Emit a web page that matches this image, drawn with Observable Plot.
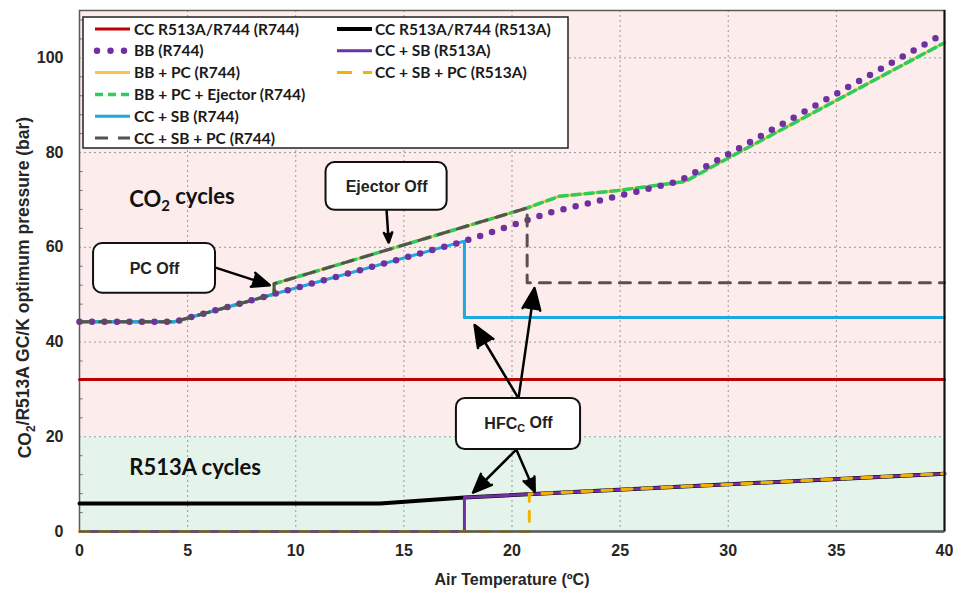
<!DOCTYPE html>
<html><head><meta charset="utf-8">
<script src="https://cdn.jsdelivr.net/npm/d3@7"></script>
<script src="https://cdn.jsdelivr.net/npm/@observablehq/plot@0.6"></script>
<style>body{margin:0;background:#fff}</style>
</head><body><div id="chart"></div>
<script>
// ---- tick labels ----
const xTicks = [0, 5, 10, 15, 20, 25, 30, 35, 40];
const yTicks = [0, 20, 40, 60, 80, 100];
const xGrid = [5, 10, 15, 20, 25, 30, 35];
const yGrid = [20, 40, 60, 80, 100];
const yMinor = [4, 8, 12, 16, 24, 28, 32, 36, 44, 48, 52, 56, 64, 68, 72, 76, 84, 88, 92, 96, 104, 108];

// ---- series names ----
const names = ["CC R513A/R744 (R744)", "BB (R744)", "BB + PC (R744)", "BB + PC + Ejector (R744)",
  "CC + SB (R744)", "CC + SB + PC (R744)", "CC R513A/R744 (R513A)", "CC + SB (R513A)", "CC + SB + PC (R513A)"];

// ---- series values (air temperature °C, pressure bar) ----
const ccR744T = [0, 40];
const ccR744P = [32.1, 32.1];
const bbT = [0, 4.4, 17.8, 21.8, 27.7, 29.9, 40];
const bbP = [44.3, 44.3, 61.3, 67.4, 73.9, 79.4, 105.2];
const bbPcT = [0, 4.4, 9, 9, 20.7, 22.2, 24.9, 28, 29.9, 40];
const bbPcP = [44.3, 44.3, 50.1, 52.3, 68.3, 70.8, 72.0, 73.9, 78.6, 103.2];
const bbPcEjT = [0, 4.4, 9, 9, 20.7, 22.2, 24.9, 28, 29.9, 40];
const bbPcEjP = [44.3, 44.3, 50.1, 52.3, 68.3, 70.8, 72.0, 73.9, 78.6, 103.2];
const ccSbR744T = [0, 4.4, 17.8, 17.8, 40];
const ccSbR744P = [44.3, 44.3, 61.3, 45.2, 45.2];
const ccSbPcR744T = [0, 4.4, 9, 9, 20.7, 20.7, 40];
const ccSbPcR744P = [44.3, 44.3, 50.1, 52.3, 68.3, 52.5, 52.5];
const ccR513T = [0, 13.9, 17.8, 40];
const ccR513P = [5.9, 5.9, 7.2, 12.2];
const ccSbR513T = [0, 17.8, 17.8, 40];
const ccSbR513P = [0, 0, 7.2, 12.2];
const ccSbPcR513T = [0, 20.8, 20.8, 40];
const ccSbPcR513P = [0, 0, 7.9, 12.2];

// ---- annotations (data units) ----
const regionLabels = [{text: "CO2 cycles", t: 2.3, p: 70.1}, {text: "R513A cycles", t: 2.3, p: 13.4}];
const boxes = [
  {text: "Ejector Off", x1: 11.4, x2: 17.0, y1: 67.8, y2: 77.9},
  {text: "PC Off", x1: 0.65, x2: 6.29, y1: 50.3, y2: 60.8},
  {text: "HFCC Off", x1: 17.43, x2: 23.17, y1: 17.3, y2: 28.1}
];
const arrows = [
  {x1: 14.2, y1: 67.8, x2: 14.3, y2: 61.0},
  {x1: 6.29, y1: 55.7, x2: 8.8, y2: 52.0},
  {x1: 20.3, y1: 28.1, x2: 18.27, y2: 43.6},
  {x1: 20.3, y1: 28.1, x2: 21.04, y2: 51.4},
  {x1: 20.2, y1: 17.3, x2: 18.2, y2: 8.2},
  {x1: 20.2, y1: 17.3, x2: 21.05, y2: 8.4}
];
const bands = [{y1: 20, y2: 110}, {y1: 0, y2: 20}];

const rows = (T, P) => T.map((t, i) => ({t, p: P[i]}));

// styles
const styles = {
  red:    {stroke: "#c00000", strokeWidth: 3},
  bb:     {stroke: "#7030a0", strokeWidth: 6.5, strokeDasharray: "0 12.5", strokeLinecap: "round"},
  bbpc:   {stroke: "#f7c548", strokeWidth: 3},
  ej:     {stroke: "#2ecc5a", strokeWidth: 3.5, strokeDasharray: "8 5"},
  blue:   {stroke: "#1fa8e0", strokeWidth: 3},
  gray:   {stroke: "#5a5050", strokeWidth: 3, strokeDasharray: "11 9"},
  black:  {stroke: "#000000", strokeWidth: 4},
  purple: {stroke: "#7030a0", strokeWidth: 3},
  gold:   {stroke: "#f0b400", strokeWidth: 3, strokeDasharray: "10 10"}
};

const series = [
  {name: names[0], data: rows(ccR744T, ccR744P), s: styles.red},
  {name: names[2], data: rows(bbPcT, bbPcP), s: styles.bbpc},
  {name: names[3], data: rows(bbPcEjT, bbPcEjP), s: styles.ej},
  {name: names[4], data: rows(ccSbR744T, ccSbR744P), s: styles.blue},
  {name: names[1], data: rows(bbT, bbP), s: styles.bb},
  {name: names[5], data: rows(ccSbPcR744T, ccSbPcR744P), s: styles.gray},
  {name: names[6], data: rows(ccR513T, ccR513P), s: styles.black},
  {name: names[7], data: rows(ccSbR513T, ccSbR513P), s: styles.purple},
  {name: names[8], data: rows(ccSbPcR513T, ccSbPcR513P), s: styles.gold}
];

const LBL = "'Liberation Sans', Arial, sans-serif";
const CAL = "Lato, 'Open Sans', sans-serif";

const chart = Plot.plot({
  width: 953, height: 593,
  marginLeft: 79, marginRight: 9, marginTop: 10, marginBottom: 62,
  x: {domain: [0, 40]},
  y: {domain: [0, 110]},
  style: {fontFamily: LBL, fontSize: "16px", fontWeight: "bold", color: "#262626", background: "#fff"},
  marks: [
    Plot.rect([bands[0]], {x1: 0, x2: 40, y1: "y1", y2: "y2", fill: "#fcecec"}),
    Plot.rect([bands[1]], {x1: 0, x2: 40, y1: "y1", y2: "y2", fill: "#e5f4ea"}),
    Plot.gridX(xGrid, {stroke: "#9a9a9a", strokeOpacity: 1, strokeDasharray: "2 3"}),
    Plot.gridY(yGrid, {stroke: "#9a9a9a", strokeOpacity: 1, strokeDasharray: "2 3"}),
    Plot.ruleY(yMinor, {x1: 0, x2: 0.17, stroke: "#777", strokeWidth: 1}),
    Plot.frame({stroke: "#5a5a5a", strokeWidth: 1.5}),
    Plot.axisX({ticks: xTicks, tickSize: 0, tickPadding: 13, label: null, tickFormat: d => d}),
    Plot.axisY({ticks: yTicks, tickSize: 0, tickPadding: 16, label: null, tickFormat: d => d}),
    ...series.map(se => Plot.line(se.data, {x: "t", y: "p", ...se.s})),
    Plot.ruleY([0], {stroke: "#5a5a5a", strokeWidth: 2.5}),
    Plot.ruleX([40], {stroke: "#111", strokeWidth: 2}),
    Plot.text(regionLabels, {x: "t", y: "p", text: "text", textAnchor: "start", fontFamily: CAL, fontWeight: "bold", fontSize: 22, fill: "#111"}),
    Plot.arrow(arrows, {x1: "x1", y1: "y1", x2: "x2", y2: "y2", stroke: "#000", fill: "#000", strokeWidth: 2.5, headLength: 14, headAngle: 45}),
    Plot.rect(boxes, {x1: "x1", x2: "x2", y1: "y1", y2: "y2", fill: "#fff", stroke: "#111", strokeWidth: 2, rx: 9}),
    Plot.text(boxes, {x: d => (d.x1 + d.x2) / 2, y: d => (d.y1 + d.y2) / 2, text: "text", fontFamily: LBL, fontWeight: "bold", fontSize: 16, fill: "#222"}),
    Plot.text(["CO2/R513A GC/K optimum pressure (bar)"], {x: -2.5, y: 51.5, text: d => d, rotate: -90, fontFamily: LBL, fontWeight: "bold", fontSize: 17.5, fill: "#262626"}),
    Plot.text(["Air Temperature (ºC)"], {x: 20.0, y: -10.3, text: d => d, fontFamily: LBL, fontWeight: "bold", fontSize: 16, fill: "#262626"})
  ]
});

// subscripts
function sub(svg, plain, parts) {
  d3.select(svg).selectAll("text").filter(function () { return this.textContent === plain; }).each(function () {
    const t = d3.select(this);
    t.text(null);
    let shifted = false;
    parts.forEach(([s, isSub]) => {
      const ts = t.append("tspan").text(s);
      if (isSub && !shifted) { ts.attr("dy", "0.3em").attr("font-size", "68%"); shifted = true; }
      else if (!isSub && shifted) { ts.attr("dy", "-0.3em"); shifted = false; }
    });
  });
}
sub(chart, "CO2 cycles", [["CO"], ["2", true], [" cycles"]]);
sub(chart, "HFCC Off", [["HFC"], ["C", true], [" Off"]]);
sub(chart, "CO2/R513A GC/K optimum pressure (bar)", [["CO"], ["2", true], ["/R513A GC/K optimum pressure (bar)"]]);

// legend (inside plot area)
const legendStyle = [styles.red, styles.bb, styles.bbpc, styles.ej, styles.blue, styles.gray, styles.black, styles.purple, styles.gold];
const legendPos = [[0,0],[0,1],[0,2],[0,3],[0,4],[0,5],[1,0],[1,1],[1,2]];
const svg = d3.select(chart);
const lg = svg.append("g").attr("text-anchor", "start");
lg.append("rect").attr("x", 83).attr("y", 17).attr("width", 485).attr("height", 131)
  .attr("fill", "#fff").attr("stroke", "#222").attr("stroke-width", 1.5);
const colSw = [[95, 130], [337, 372]];
const colTx = [134, 375];
names.forEach((n, i) => {
  const [c, r] = legendPos[i];
  const y = 29 + r * 21.8;
  const st = legendStyle[i];
  let dash = st.strokeDasharray || null;
  let x1 = colSw[c][0], x2 = colSw[c][1];
  if (st === styles.bb) { x1 = 97; x2 = 125; dash = "0 13.5"; }
  if (st === styles.gray) dash = "13 10";
  if (st === styles.gold) dash = "15 11";
  lg.append("line").attr("x1", x1).attr("x2", x2).attr("y1", y).attr("y2", y)
    .attr("stroke", st.stroke).attr("stroke-width", st.strokeWidth)
    .attr("stroke-dasharray", dash).attr("stroke-linecap", st.strokeLinecap || "butt");
  lg.append("text").attr("x", colTx[c]).attr("y", y).attr("dy", "0.36em").attr("text-anchor", "start")
    .attr("font-family", CAL).attr("font-weight", "bold").attr("font-size", 15.5).attr("fill", "#1a1a1a").text(n);
});

document.getElementById("chart").append(chart);
</script>
</body></html>
